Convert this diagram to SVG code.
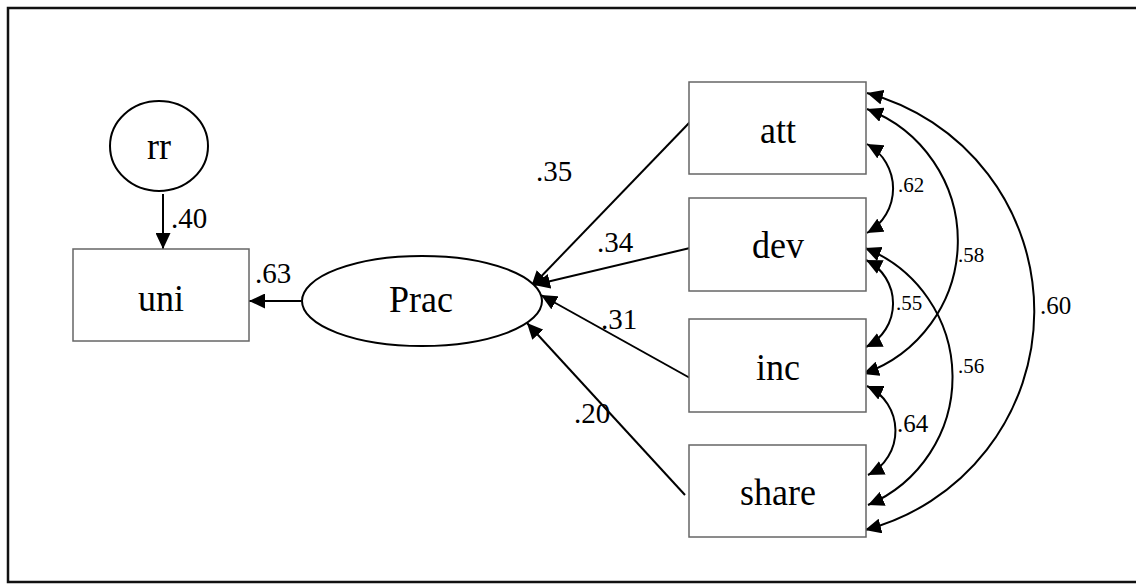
<svg xmlns="http://www.w3.org/2000/svg" width="1136" height="584" viewBox="0 0 1136 584">
  <style>
    .frame { fill: #ffffff; stroke: #111111; stroke-width: 2.5; }
    .box { fill: #ffffff; stroke: #666666; stroke-width: 1.5; }
    .oval { fill: #ffffff; stroke: #000000; stroke-width: 2; }
    .node-label { font-family: "Liberation Serif", "Times New Roman", serif; font-size: 36px; fill: #000000; text-anchor: middle; }
    .path { fill: none; stroke: #000000; stroke-width: 2; marker-end: url(#head); }
    .cov { fill: none; stroke: #000000; stroke-width: 2; marker-start: url(#head); marker-end: url(#head); }
    .coef { font-family: "Liberation Serif", "Times New Roman", serif; font-size: 29px; fill: #000000; }
    .coef-m { font-family: "Liberation Serif", "Times New Roman", serif; font-size: 25px; fill: #000000; }
    .coef-s { font-family: "Liberation Serif", "Times New Roman", serif; font-size: 21px; fill: #000000; }
  </style>
  <defs>
    <marker id="head" viewBox="0 0 16 15" refX="16" refY="7.5" markerWidth="16" markerHeight="15" markerUnits="userSpaceOnUse" orient="auto-start-reverse">
      <path d="M0,0 L16,7.5 L0,15 z" fill="#000000"/>
    </marker>
  </defs>

  <!-- outer frame -->
  <rect class="frame" x="8" y="8" width="1140" height="574"/>

  <!-- connectors -->
  <g id="connectors">
    <!-- directed paths -->
    <line class="path" x1="163" y1="194" x2="163" y2="249"/>
    <line class="path" x1="301" y1="301" x2="249" y2="301"/>
    <line class="path" x1="690" y1="122" x2="531" y2="287"/>
    <line class="path" x1="690" y1="248" x2="534" y2="285"/>
    <line class="path" x1="690" y1="378" x2="541" y2="295"/>
    <line class="path" x1="685" y1="495" x2="527" y2="323"/>

    <!-- covariances -->
    <path class="cov" d="M867,144 A51 51 0 0 1 867,233"/>
    <path class="cov" d="M866,260 A48.5 48.5 0 0 1 866,347"/>
    <path class="cov" d="M867,386 A49.4 49.4 0 0 1 868,475"/>
    <path class="cov" d="M867,109 A141 141 0 0 1 863,374"/>
    <path class="cov" d="M865,248 A139 139 0 0 1 868,505"/>
    <path class="cov" d="M867,93 A226 226 0 0 1 865,530"/>

    <!-- coefficients -->
    <text class="coef" x="171" y="228">.40</text>
    <text class="coef" x="255" y="283">.63</text>
    <text class="coef" x="536" y="181">.35</text>
    <text class="coef" x="597" y="252">.34</text>
    <text class="coef" x="601" y="329">.31</text>
    <text class="coef" x="574" y="423">.20</text>
    <text class="coef-s" x="898" y="192">.62</text>
    <text class="coef-s" x="958" y="262">.58</text>
    <text class="coef-s" x="896" y="310">.55</text>
    <text class="coef-s" x="958" y="373">.56</text>
    <text class="coef-m" x="897" y="432">.64</text>
    <text class="coef-m" x="1040" y="314">.60</text>
  </g>

  <!-- node labels are drawn slightly tall: scale(1,1.08) about the baseline -->
  <g id="node-rr">
    <ellipse class="oval" cx="159" cy="146" rx="49" ry="45"/>
    <text class="node-label" transform="translate(159,159) scale(1,1.08)">rr</text>
  </g>
  <g id="node-uni">
    <rect class="box" x="73" y="249" width="176" height="92"/>
    <text class="node-label" transform="translate(161,311) scale(1,1.08)">uni</text>
  </g>
  <g id="node-prac">
    <ellipse class="oval" cx="422" cy="301" rx="120" ry="45"/>
    <text class="node-label" transform="translate(421,312) scale(1,1.08)">Prac</text>
  </g>
  <g id="node-att">
    <rect class="box" x="689" y="82" width="177" height="92"/>
    <text class="node-label" transform="translate(778,143) scale(1,1.08)">att</text>
  </g>
  <g id="node-dev">
    <rect class="box" x="689" y="198" width="177" height="93"/>
    <text class="node-label" transform="translate(778,258) scale(1,1.08)">dev</text>
  </g>
  <g id="node-inc">
    <rect class="box" x="689" y="319" width="177" height="93"/>
    <text class="node-label" transform="translate(778,380) scale(1,1.08)">inc</text>
  </g>
  <g id="node-share">
    <rect class="box" x="689" y="445" width="177" height="92"/>
    <text class="node-label" transform="translate(778,505) scale(1,1.08)">share</text>
  </g>
</svg>
